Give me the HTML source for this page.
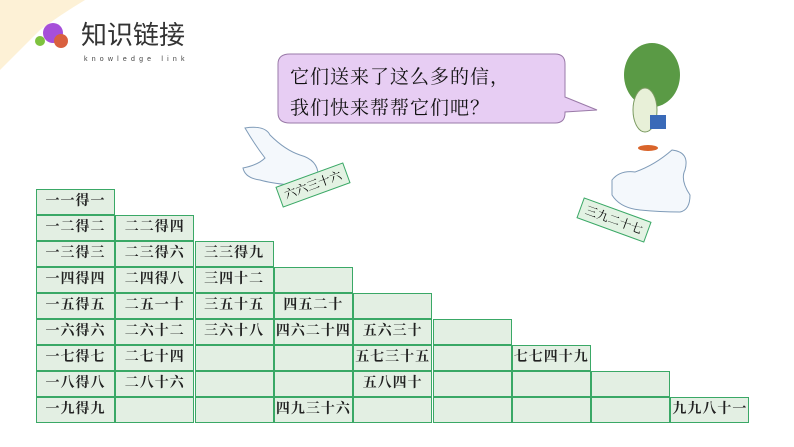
<!DOCTYPE html>
<html><head><meta charset="utf-8"><style>
body{margin:0;width:794px;height:447px;overflow:hidden;background:#fff;position:relative;font-family:"Liberation Serif","Noto Serif CJK SC",serif}
.c{position:absolute;width:79px;height:26px;box-sizing:border-box;border:1px solid #3aa866;background:#e3efe3;font-size:14px;font-weight:bold;line-height:24px;text-align:center;color:#222;letter-spacing:1px}
.card{position:absolute;width:72px;height:22px;border:1.5px solid #3aa866;background:#e3f2e3;font-size:12px;line-height:21px;text-align:center;box-sizing:border-box}
</style></head><body>
<svg width="794" height="447" style="position:absolute;left:0;top:0">
<path d="M0 0 H85 Q60 15 40 30 Q15 55 0 70 Z" fill="#fdf1d6"/>
<circle cx="53" cy="33" r="10" fill="#a64fd9"/>
<circle cx="61" cy="41" r="7" fill="#d9603f"/>
<circle cx="40" cy="41" r="5" fill="#7ec23e"/>
<path d="M290 54 H555 Q565 54 565 64 V97 L597 110 L565 112 V113 Q565 123 555 123 H290 Q278 123 278 113 V64 Q278 54 290 54 Z" fill="#e7cdf3" stroke="#9a7aa8" stroke-width="1"/>
<path d="M245 128 Q265 125 270 135 Q285 150 300 155 Q318 160 318 175 Q310 185 290 185 Q270 183 260 180 Q245 178 243 168 Q258 165 265 158 Q255 145 245 128 Z" fill="#f4f8fc" stroke="#7f9bb8"/>
<ellipse cx="652" cy="75" rx="28" ry="32" fill="#5a9a45"/>
<ellipse cx="645" cy="110" rx="12" ry="22" fill="#e8f0d8" stroke="#7a9a60"/>
<rect x="650" y="115" width="16" height="14" fill="#3a6ab8"/>
<ellipse cx="648" cy="148" rx="10" ry="3" fill="#d9642a"/>
<path d="M612 180 Q620 170 635 172 Q655 165 672 150 Q690 152 685 170 Q680 180 690 195 Q690 210 680 212 Q660 212 640 210 Q620 208 612 195 Z" fill="#f4f8fc" stroke="#7f9bb8"/>
</svg>
<div style="position:absolute;left:81px;top:20px;font-family:'Liberation Sans','Noto Sans CJK SC',sans-serif;font-size:26px;line-height:30px;color:#333">知识链接</div>
<div style="position:absolute;left:84px;top:56px;font-family:'Liberation Sans',sans-serif;font-size:7px;letter-spacing:4.2px;color:#444">knowledge link</div>
<div style="position:absolute;left:290px;top:62px;font-size:19px;line-height:31px;color:#111;letter-spacing:1px;font-family:'Liberation Serif','Noto Serif CJK SC',serif">它们送来了这么多的信，<br>我们快来帮帮它们吧？</div>
<div class="card" style="left:277px;top:174px;transform:rotate(-20deg)">六六三十六</div>
<div class="card" style="left:578px;top:209px;transform:rotate(20deg)">三九二十七</div>
<div id="t"></div>
<script>
var d=[["一一得一"],["一二得二","二二得四"],["一三得三","二三得六","三三得九"],["一四得四","二四得八","三四十二",""],["一五得五","二五一十","三五十五","四五二十",""],["一六得六","二六十二","三六十八","四六二十四","五六三十",""],["一七得七","二七十四","","","五七三十五","","七七四十九"],["一八得八","二八十六","","","五八四十","","","",],["一九得九","","","四九三十六","","","","","九九八十一"]];
var h="";for(var r=0;r<9;r++){for(var c=0;c<=r;c++){var t=d[r][c]||"";h+='<div class="c" style="left:'+(36+c*79.3)+'px;top:'+(189+r*26)+'px">'+t+'</div>';}}
document.getElementById("t").innerHTML=h;
</script>
</body></html>
